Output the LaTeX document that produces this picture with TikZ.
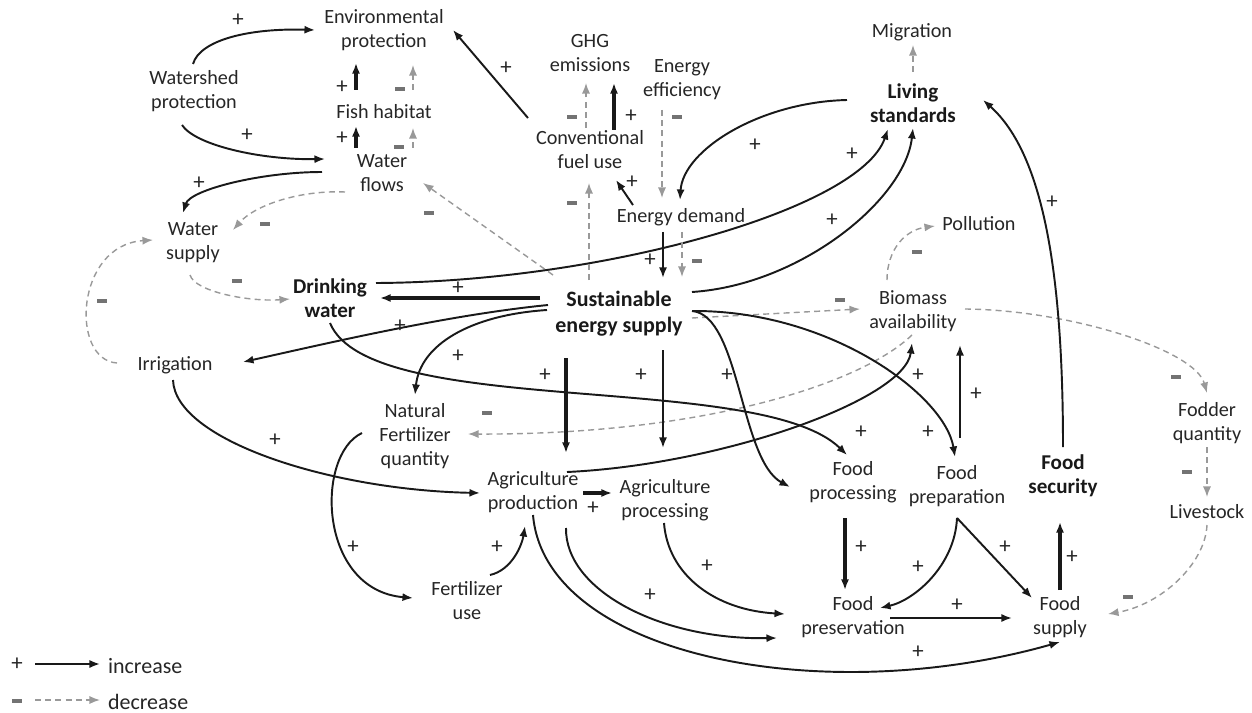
\documentclass[tikz,border=0pt]{standalone}
\usepackage{fontspec}
\setmainfont{Carlito}
\usetikzlibrary{arrows.meta,calc}

\begin{document}
\begin{tikzpicture}[x=0.02cm, y=-0.02cm,
  every node/.style={text=black!85, align=center, inner sep=1pt},
  var/.style={font=\fontsize{11.5}{13.6}\selectfont},
  keyvar/.style={font=\bfseries\fontsize{12}{13.8}\selectfont, text=black!90},
  inc/.style={-{Latex[length=6pt,width=4.6pt]}, line width=1.1pt, black!90},
  thickinc/.style={inc, line width=2.4pt},
  dec/.style={-{Latex[length=6pt,width=4.6pt]}, line width=0.8pt, black!40, dash pattern=on 3.4pt off 2.4pt},
  plusmark/.style={font=\fontsize{13}{14}\selectfont, text=black!85, inner sep=0pt},
  minusmark/.style={fill=black!55, minimum width=5.8pt, minimum height=2.5pt, inner sep=0pt},
]
  \useasboundingbox (0,0) rectangle (1252,713);

  % variables
  \node[var] (envp) at (384,30) {Environmental\\protection};
  \node[var] (wsp) at (194,91) {Watershed\\protection};
  \node[var] (fish) at (384,112) {Fish habitat};
  \node[var] (wflow) at (382,173) {Water\\flows};
  \node[var] (wsup) at (193,243) {Water\\supply};
  \node[keyvar] (drink) at (330,298) {Drinking\\water};
  \node[var] (irr) at (175,365) {Irrigation};
  \node[var] (nfq) at (415,436) {Natural\\Fertilizer\\quantity};
  \node[var] (fuse) at (467,601) {Fertilizer\\use};
  \node[var] (agprod) at (533,492) {Agriculture\\production};
  \node[var] (agproc) at (665,500) {Agriculture\\processing};
  \node[var] (ghg) at (590,53) {GHG\\emissions};
  \node[var] (eeff) at (682,80) {Energy\\efficiency};
  \node[var] (cfu) at (590,150) {Conventional\\fuel use};
  \node[var] (edem) at (681,217) {Energy demand};
  \node[keyvar, font=\bfseries\fontsize{12.5}{14.7}\selectfont] (ses) at (619,314) {Sustainable\\energy supply};
  \node[var] (migr) at (912,32) {Migration};
  \node[keyvar] (livs) at (913,103) {Living\\standards};
  \node[var] (poll) at (979,224) {Pollution};
  \node[var] (bio) at (913,311) {Biomass\\availability};
  \node[var] (fodd) at (1207,423) {Fodder\\quantity};
  \node[keyvar] (fsec) at (1063,476) {Food\\security};
  \node[var] (live) at (1207,512) {Livestock};
  \node[var] (fproc) at (853,482) {Food\\processing};
  \node[var] (fprep) at (957,486) {Food\\preparation};
  \node[var] (fpres) at (853,617) {Food\\preservation};
  \node[var] (fsup) at (1060,617) {Food\\supply};

  % water
  \draw[inc] ($(wsp)+(-1,-27)$) .. controls +(7,-24) and +(-66,-2) .. ($(envp)+(-69,0)$);
  \draw[inc] ($(wsp)+(-12,34)$) .. controls +(13,20) and +(-65,1) .. ($(wflow)+(-57,-14)$);
  \draw[inc] ($(wflow)+(-60,-1)$) .. controls +(-62,0) and +(7,-23) .. ($(wsup)+(-10,-30)$);
  \draw[thickinc] ($(fish)+(-28,-22)$) -- ($(envp)+(-28,33)$);
  \draw[thickinc] ($(wflow)+(-26,-25)$) -- ($(fish)+(-28,14)$);
  \draw[dec] ($(fish)+(29,-22)$) -- ($(envp)+(29,35)$);
  \draw[dec] ($(wflow)+(31,-25)$) -- ($(fish)+(29,16)$);
  \draw[dec] ($(wflow)+(-37,19)$) .. controls +(-45,-2) and +(22,-25) .. ($(wsup)+(40,-13)$);
  \draw[dec] ($(ses)+(-66,-39)$) -- ($(wflow)+(41,10)$);
  \draw[dec] ($(wsup)+(-3,32)$) .. controls +(5,17) and +(-40,3) .. ($(drink)+(-40,1)$);
  \draw[dec] ($(irr)+(-58,-2)$) .. controls +(-47,-3) and +(-78,5) .. ($(wsup)+(-40,-3)$);
  \draw[thickinc] ($(ses)+(-79,-16)$) -- ($(drink)+(50,0)$);

  % energy
  \draw[inc] ($(drink)+(46,-15)$) .. controls +(224,-1) and +(-28,81) .. ($(livs)+(-25,26)$);
  \draw[inc] ($(ses)+(73,-22)$) .. controls +(108,-7) and +(-8,72) .. ($(livs)+(0,25)$);
  \draw[inc] ($(livs)+(-66,-3)$) .. controls +(-87,2) and +(3,-50) .. ($(edem)+(-1,-17)$);
  \draw[dec] ($(eeff)+(-20,30)$) -- ($(edem)+(-19,-19)$);
  \draw[inc] ($(edem)+(-48,-12)$) -- ($(cfu)+(26,30)$);
  \draw[thickinc] ($(cfu)+(24,-20)$) -- ($(ghg)+(24,30)$);
  \draw[dec] ($(cfu)+(-4,-22)$) -- ($(ghg)+(-4,30)$);
  \draw[inc] ($(cfu)+(-62,-32)$) -- ($(envp)+(69,0)$);
  \draw[dec] ($(ses)+(-30,-34)$) -- ($(cfu)+(-1,33)$);
  \draw[inc] ($(edem)+(-18,15)$) -- ($(ses)+(44,-36)$);
  \draw[dec] ($(edem)+(1,15)$) -- ($(ses)+(63,-37)$);
  \draw[dec] ($(livs)+(0,-31)$) -- ($(migr)+(1,13)$);

  % biomass
  \draw[dec] ($(ses)+(73,4)$) -- ($(bio)+(-53,-2)$);
  \draw[dec] ($(bio)+(-26,-31)$) .. controls +(0,-30) and +(-30,4) .. ($(poll)+(-44,2)$);
  \draw[dec] ($(bio)+(52,-2)$) .. controls +(105,1) and +(-12,-43) .. ($(fodd)+(0,-30)$);
  \draw[dec] ($(fodd)+(0,24)$) -- ($(live)+(0,-15)$);
  \draw[dec] ($(live)+(0,13)$) .. controls +(-2,40) and +(52,-9) .. ($(fsup)+(48,-3)$);
  \draw[dec] ($(bio)+(-1,24)$) .. controls +(-52,50) and +(232,1) .. ($(nfq)+(53,-2)$);

  % food
  \draw[inc] ($(fsec)+(0,-29)$) .. controls +(0,-167) and +(62,55) .. ($(livs)+(70,-3)$);
  \draw[thickinc] ($(fsup)+(0,-27)$) -- ($(fsec)+(-3,46)$);
  \draw[inc] ($(fprep)+(3,-48)$) -- ($(bio)+(47,34)$);
  \draw[inc] ($(fprep)+(0,32)$) .. controls +(-2,47) and +(35,-8) .. ($(fpres)+(27,-9)$);
  \draw[inc] ($(fprep)+(0,32)$) -- ($(fsup)+(-28,-19)$);
  \draw[thickinc] ($(fproc)+(-8,36)$) -- ($(fpres)+(-8,-27)$);
  \draw[inc] ($(fpres)+(37,1)$) -- ($(fsup)+(-48,1)$);
  \draw[inc] ($(agprod)+(0,23)$) .. controls +(12,140) and +(-240,68) .. ($(fsup)+(0,25)$);
  \draw[inc] ($(agprod)+(33,36)$) .. controls +(-1,62) and +(-117,2) .. ($(fpres)+(-76,21)$);
  \draw[inc] ($(agproc)+(-1,23)$) .. controls +(4,52) and +(-70,-4) .. ($(fpres)+(-68,-3)$);
  \draw[thickinc] ($(agprod)+(50,1)$) -- ($(agproc)+(-53,-7)$);
  \draw[inc] ($(fuse)+(23,-26)$) .. controls +(22,-5) and +(-3,19) .. ($(agprod)+(-8,34)$);
  \draw[inc] ($(nfq)+(-53,-3)$) .. controls +(-47,22) and +(-95,-8) .. ($(fuse)+(-54,-3)$);
  \draw[inc] ($(irr)+(-2,15)$) .. controls +(2,60) and +(-150,-3) .. ($(agprod)+(-53,1)$);
  \draw[inc] ($(ses)+(-71,-9)$) .. controls +(-100,10) and +(90,-20) .. ($(irr)+(68,-3)$);
  \draw[inc] ($(ses)+(-72,-4)$) .. controls +(-77,5) and +(5,-50) .. ($(nfq)+(0,-41)$);
  \draw[inc] ($(drink)+(0,25)$) .. controls +(40,97) and +(-87,-85) .. ($(fproc)+(-6,-27)$);
  \draw[inc] ($(ses)+(73,-3)$) .. controls +(48,4) and +(-50,-27) .. ($(fproc)+(-63,5)$);
  \draw[inc] ($(ses)+(73,-3)$) .. controls +(138,-1) and +(-10,-62) .. ($(fprep)+(-2,-29)$);
  \draw[inc] ($(agprod)+(34,-20)$) .. controls +(153,-7) and +(-7,57) .. ($(bio)+(-1,32)$);
  \draw[thickinc] ($(ses)+(-53,44)$) -- ($(agprod)+(33,-39)$);
  \draw[inc] ($(ses)+(44,36)$) -- ($(agproc)+(-2,-52)$);

  % signs
  \foreach \x/\y in {238/20, 247/135, 199/183, 342/87, 342/138, 506/68, 631/116, 632/182,
    650/260, 458/288, 400/326, 458/356, 545/375, 641/375, 727/375, 755/145, 852/154, 832/220,
    1052/202, 918/375, 976/394, 861/432, 928/432, 275/440, 353/547, 497/547, 593/508,
    707/566, 650/595, 861/547, 918/567, 1005/547, 957/605, 1072/557, 918/652}
    \node[plusmark] at (\x,\y) {+};
  \foreach \x/\y in {400/89, 399/147, 265/224, 429/213, 572/117, 677/117, 572/203, 697/261,
    840/300, 487/413, 237/281, 102/301, 917/252, 1176/377, 1187/472, 1128/597}
    \node[minusmark] at (\x,\y) {};

  % legend
  \node[plusmark] (lgplus) at (17,664) {+};
  \node[anchor=west, font=\fontsize{12.5}{14}\selectfont] (lginc) at (106,666) {increase};
  \draw[inc, line width=1pt] ($(lgplus)+(18,0)$) -- ($(lginc.west)+(-6,-2)$);
  \node[minusmark] (lgminus) at (17,701) {};
  \node[anchor=west, font=\fontsize{12.5}{14}\selectfont] (lgdec) at (106,702) {decrease};
  \draw[dec] ($(lgminus)+(18,-1)$) -- ($(lgdec.west)+(-6,-2)$);
\end{tikzpicture}
\end{document}
